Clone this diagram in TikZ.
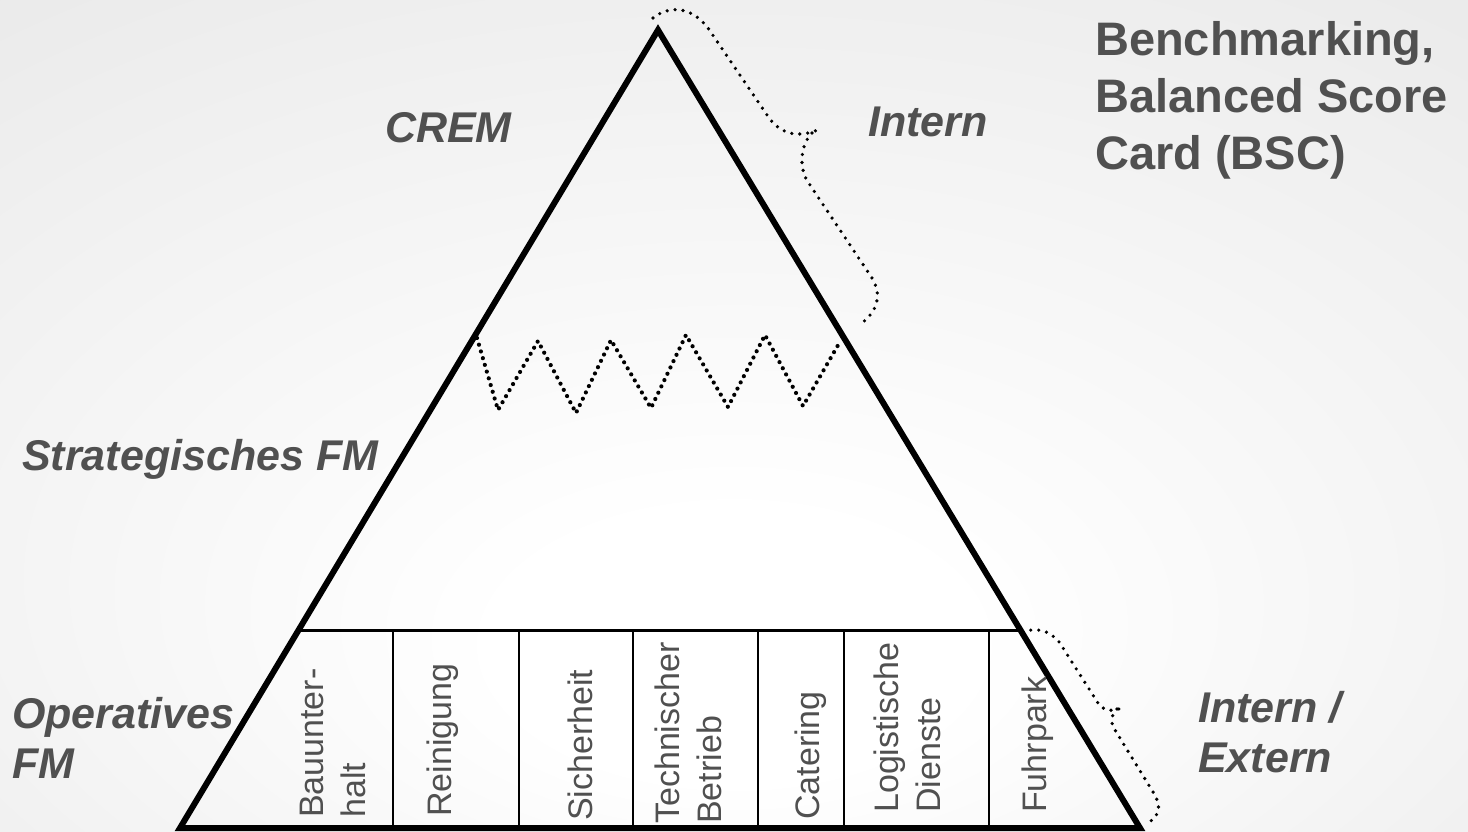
\documentclass[tikz,border=0pt]{standalone}
\usepackage{fontspec}
\setmainfont{Liberation Sans}
\usetikzlibrary{calc}
\definecolor{bggray}{HTML}{DCDCDC}
\definecolor{txt}{HTML}{505050}
\pgfdeclareradialshading{bgshade}{\pgfpoint{0bp}{-16bp}}{color(0bp)=(white); color(8bp)=(white); color(62bp)=(bggray)}
\tikzset{
  lbl/.style={font=\fontsize{43}{50}\selectfont\bfseries\itshape, text=txt, inner sep=0pt, anchor=base west, align=left},
  big/.style={font=\fontsize{47}{57.5}\selectfont\bfseries, text=txt, inner sep=0pt, anchor=base west, align=left},
  box/.style={font=\fontsize{34}{42}\selectfont, text=txt, inner sep=0pt, rotate=90, anchor=west, align=left},
  tri/.style={line width=6pt, line join=miter},
  dots/.style={line width=3.6pt, line cap=round, dash pattern=on 0pt off 8pt},
  zig/.style={line width=4.2pt, line cap=round, dash pattern=on 0pt off 7pt}
}
\begin{document}
\begin{tikzpicture}[x=1pt, y=-1pt]
\useasboundingbox (0,0) rectangle (1468,832);
\shade[shading=bgshade] (0,0) rectangle (1468,832);
% triangle
\coordinate (A) at (658,30);
\coordinate (BL) at (180,828);
\coordinate (BR) at (1140,828);
\coordinate (L) at (298.6,630);
\coordinate (R) at (1020.4,630);
\draw[tri] (A) -- (BL) -- (BR) -- cycle;
\draw[line width=3pt] (L) -- (R);
\foreach \x in {393,519,633,758,844,989}{
  \draw[line width=2pt] (\x,632) -- (\x,828);
}
% zigzag
\draw[zig] (477,338) -- (498,410) -- (538,341) -- (576,413) -- (611,340) -- (651,408) -- (686,335) -- (728,407) -- (765,335) -- (803,406) -- (841,340);
% braces
\draw[dots] (653,18) .. controls (668,6) and (690,5) .. (708,28) -- (767,115) .. controls (778,132) and (795,140) .. (820,129);
\draw[dots] (812,133) .. controls (800,145) and (798,170) .. (810,185) -- (872,278) .. controls (882,295) and (878,310) .. (862,323);
\draw[dots] (1023,632) .. controls (1040,626) and (1055,633) .. (1063,648) -- (1098,703) .. controls (1104,712) and (1115,712) .. (1123,707);
\draw[dots] (1117,709) .. controls (1111,715) and (1110,723) .. (1115,730) -- (1153,792) .. controls (1162,806) and (1160,815) .. (1148,823);
% labels
\node[lbl] (crem) at (385,143) {CREM};
\node[lbl] (intern) at (868,137) {Intern};
\node[lbl] (strat) at (22,470) {Strategisches FM};
\node[lbl] (oper) at (12,778) {Operatives\\FM};
\node[lbl] (ie) at (1198,772) {Intern /\\Extern};
\node[big] (bench) at (1095,170) {Benchmarking,\\Balanced Score\\Card (BSC)};
% box labels
\node[box] (b1) at (333,818) {Bauunter-\\halt};
\node[box] (b2) at (443,817) {Reinigung};
\node[box] (b3) at (580,821) {Sicherheit};
\node[box] (b4) at (688,824) {Technischer\\Betrieb};
\node[box] (b5) at (811,820) {Catering};
\node[box] (b6) at (907,813) {Logistische\\Dienste};
\node[box] (b7) at (1038,813) {Fuhrpark};
\end{tikzpicture}
\end{document}
